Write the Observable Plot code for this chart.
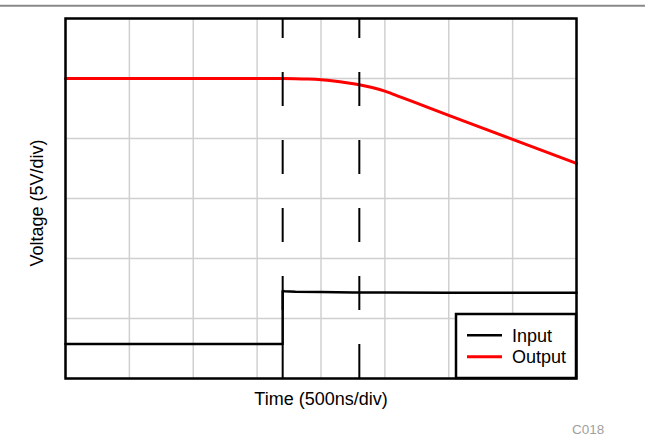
<!DOCTYPE html>
<html>
<head>
<meta charset="utf-8">
<script src="https://cdn.jsdelivr.net/npm/d3@7"></script>
<script src="https://cdn.jsdelivr.net/npm/@observablehq/plot@0.6"></script>
<style>
  html, body { margin: 0; padding: 0; background: #fff; }
  #chart { position: relative; width: 645px; height: 439px; }
</style>
</head>
<body>
<div id="chart"></div>
<script>
// ---- data (x in divisions of 500 ns, y in divisions of 5 V) ----
const xTicks = [0, 1, 2, 3, 4, 5, 6, 7, 8];
const yTicks = [0, 1, 2, 3, 4, 5, 6];

const inputT = [0, 3.40, 3.40, 3.43, 3.6, 4.0, 4.5, 5.0, 6.0, 7.0, 8.0];
const inputV = [0.575, 0.575, 1.46, 1.455, 1.445, 1.44, 1.435, 1.432, 1.43, 1.43, 1.428];

const outputT = [0, 3.0, 3.4, 3.6, 3.8, 4.0, 4.2, 4.4, 4.6, 4.8, 5.0, 5.25, 5.5, 6.0, 6.5, 7.0, 7.5, 8.0];
const outputV = [5.0, 5.0, 5.0, 4.997, 4.99, 4.978, 4.958, 4.93, 4.895, 4.85, 4.79, 4.69, 4.59, 4.385, 4.185, 3.985, 3.785, 3.585];

const cursorT = [3.40, 4.60];

const seriesNames = ["Input", "Output"];
const seriesColors = ["#000000", "#ff0000"];
const seriesWidths = [2.5, 3];

const xLabel = "Time (500ns/div)";
const yLabel = "Voltage (5V/div)";
const figureCode = "C018";

const inputData = inputT.map((t, i) => ({t, v: inputV[i]}));
const outputData = outputT.map((t, i) => ({t, v: outputV[i]}));

const font = "'Liberation Sans', Arial, Helvetica, sans-serif";

const W = 645, H = 439;
const mL = 65, mR = 69, mT = 18, mB = 61;

const svg = Plot.plot({
  width: W,
  height: H,
  marginLeft: mL,
  marginRight: mR,
  marginTop: mT,
  marginBottom: mB,
  style: {fontFamily: font, background: "white", overflow: "visible"},
  x: {domain: [0, 8], axis: null},
  y: {domain: [0, 6], axis: null},
  marks: [
    Plot.ruleX(xTicks, {stroke: "#d0d0d0", strokeWidth: 1.5, strokeOpacity: 1}),
    Plot.ruleY(yTicks, {stroke: "#d0d0d0", strokeWidth: 1.5, strokeOpacity: 1}),
    Plot.line(inputData, {x: "t", y: "v", stroke: seriesColors[0], strokeWidth: seriesWidths[0], curve: "linear"}),
    Plot.line(outputData, {x: "t", y: "v", stroke: seriesColors[1], strokeWidth: seriesWidths[1], curve: "monotone-x"}),
    Plot.ruleX(cursorT, {y1: 0, y2: 6, stroke: "black", strokeWidth: 2, strokeDasharray: "34,34"}),
    Plot.frame({stroke: "black", strokeWidth: 2.5}),
    Plot.text([xLabel], {frameAnchor: "bottom", dy: 20.5, fontSize: 18, fill: "black", textAnchor: "middle", lineAnchor: "middle"}),
    Plot.text([yLabel], {frameAnchor: "left", dx: -28.5, dy: 4.5, rotate: -90, fontSize: 18, fill: "black", textAnchor: "middle", lineAnchor: "middle"})
  ]
});

document.getElementById("chart").appendChild(svg);

// Decorations: top rule, legend, figure code
const s = d3.select(svg);
s.append("line")
  .attr("x1", 0).attr("x2", W).attr("y1", 5.7).attr("y2", 5.7)
  .attr("stroke", "#888").attr("stroke-width", 2);

const lg = s.append("g").attr("font-family", font).attr("text-anchor", "start");
lg.append("rect")
  .attr("x", 456).attr("y", 314).attr("width", 120).attr("height", 64)
  .attr("fill", "white").attr("stroke", "black").attr("stroke-width", 2.5);
seriesNames.forEach((name, i) => {
  const y = 335.3 + i * 21.4;
  lg.append("line")
    .attr("x1", 467).attr("x2", 502).attr("y1", y).attr("y2", y)
    .attr("stroke", seriesColors[i]).attr("stroke-width", seriesWidths[i]);
  lg.append("text")
    .attr("x", 512).attr("y", y).attr("dy", "0.35em")
    .attr("text-anchor", "start")
    .attr("font-size", 18).attr("fill", "black")
    .text(name);
});

s.append("text")
  .attr("x", 572).attr("y", 434)
  .attr("text-anchor", "start")
  .attr("font-family", font).attr("font-size", 13.5).attr("fill", "#a0a0a0")
  .text(figureCode);
</script>
</body>
</html>
